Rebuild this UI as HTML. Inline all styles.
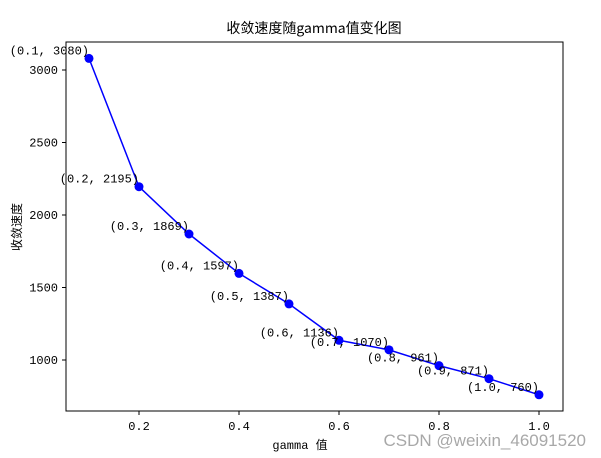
<!DOCTYPE html>
<html><head><meta charset="utf-8"><style>
body{margin:0;background:#fff;}
svg{display:block;font-family:"Liberation Mono","Noto Sans CJK SC",monospace;}
</style></head><body>
<svg id="chart" width="601" height="458">
<rect x="0" y="0" width="601" height="458" fill="#fff"/>
<text x="314" y="33" text-anchor="middle" font-size="14" font-family="'Noto Sans CJK SC',sans-serif">收敛速度随gamma值变化图</text>
<g id="axes"></g>
<g id="marks"></g>
<rect x="66" y="42" width="497" height="369" fill="none" stroke="#000" stroke-width="1"/>
<text x="300" y="449" text-anchor="middle" font-size="12">gamma 值</text>
<text transform="translate(21,227) rotate(-90)" text-anchor="middle" font-size="12" font-family="'Noto Sans CJK SC',sans-serif">收敛速度</text>
<text x="586" y="446" text-anchor="end" font-size="17" fill="#a8a8a8" font-family="'Liberation Sans',sans-serif">CSDN @weixin_46091520</text>
</svg>
<script>
const gammas=[0.1,0.2,0.3,0.4,0.5,0.6,0.7,0.8,0.9,1.0];
const speeds=[3080,2195,1869,1597,1387,1136,1070,961,871,760];
const xTicks=[0.2,0.4,0.6,0.8,1.0];
const yTicks=[1000,1500,2000,2500,3000];
const NS="http://www.w3.org/2000/svg";
function xs(v){return 89+(v-0.1)*500;}
function ys(v){return 70+(3000-v)*0.145;}
const axes=document.getElementById('axes'),marks=document.getElementById('marks');
function mk(tag,attrs,parent){const e=document.createElementNS(NS,tag);for(const k in attrs)e.setAttribute(k,attrs[k]);parent.appendChild(e);return e;}
xTicks.forEach(t=>{
  const l=mk('line',{x1:xs(t),x2:xs(t),y1:411,y2:415,stroke:'#000'},axes);
  
  
  const tx=mk('text',{x:xs(t),y:430,'text-anchor':'middle','font-size':12},axes);
  tx.textContent=t.toFixed(1);
  
  
});
yTicks.forEach(t=>{
  const l=mk('line',{x1:62,x2:66,y1:ys(t),y2:ys(t),stroke:'#000'},axes);
  
  
  const tx=mk('text',{x:58,y:ys(t)+4,'text-anchor':'end','font-size':12},axes);
  tx.textContent=t;
  
  
});
const pl=mk('polyline',{points:gammas.map((g,i)=>xs(g)+','+ys(speeds[i])).join(' '),fill:'none',stroke:'#0000ff','stroke-width':1.5},marks);


gammas.forEach((g,i)=>{
  const c=mk('circle',{cx:xs(g),cy:ys(speeds[i]),r:4.5,fill:'#0000ff'},marks);
  
  
  const tx=mk('text',{x:xs(g),y:ys(speeds[i])-4,'text-anchor':'end','font-size':12},marks);
  tx.textContent='('+g.toFixed(1)+', '+speeds[i]+')';
  
  
});
</script>
</body></html>
